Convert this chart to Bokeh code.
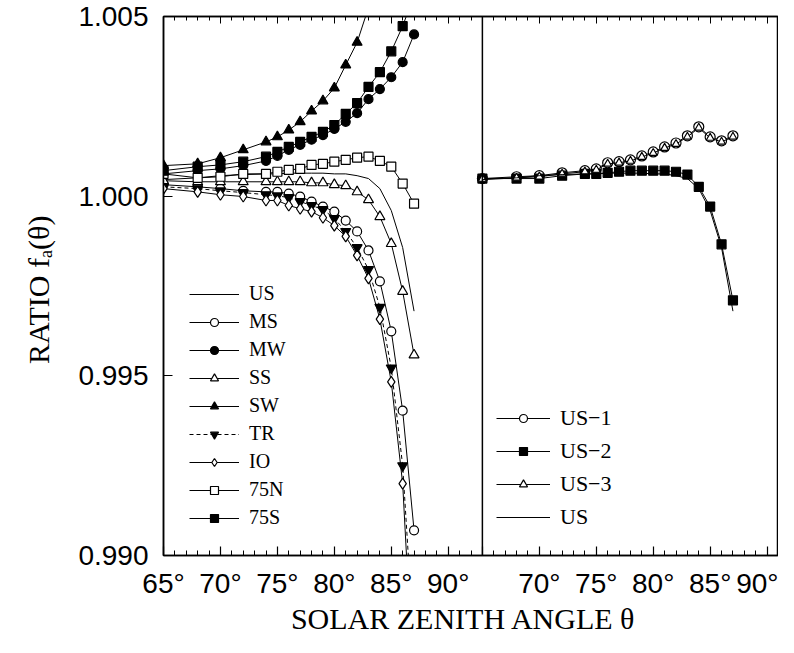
from bokeh.plotting import figure
from bokeh.models import FixedTicker, LinearAxis, Span, Legend, LegendItem, PrintfTickFormatter, Range1d
from bokeh.embed import file_html
from bokeh.resources import INLINE

# Solar zenith angles (degrees) of the computed points
angles = [65, 68, 70, 72, 74, 75, 76, 77, 78, 79, 80, 81, 82, 83, 84, 85, 86, 87]

# Left panel: ratio f_a(theta) for the standard atmospheres
us  = [1.00046, 1.00051, 1.00057, 1.00060, 1.00062, 1.00062, 1.00064, 1.00064, 1.00064,
       1.00064, 1.00062, 1.00062, 1.00057, 1.00049, 1.00021, 0.99960, 0.99857, 0.99680]
ms  = [1.00032, 1.00026, 1.00021, 1.00015, 1.00012, 1.00012, 1.00007, 0.99999, 0.99985,
       0.99971, 0.99957, 0.99932, 0.99902, 0.99849, 0.99763, 0.99624, 0.99403, 0.99070]
mw  = [1.00062, 1.00071, 1.00076, 1.00085, 1.00098, 1.00112, 1.00129, 1.00143, 1.00157,
       1.00170, 1.00187, 1.00207, 1.00231, 1.00270, 1.00298, 1.00331, 1.00373, 1.00450]
ss  = [1.00043, 1.00040, 1.00040, 1.00040, 1.00040, 1.00040, 1.00040, 1.00040, 1.00037,
       1.00037, 1.00032, 1.00029, 1.00012, 0.99990, 0.99943, 0.99868, 0.99735, 0.99558]
sw  = [1.00085, 1.00090, 1.00107, 1.00129, 1.00151, 1.00165, 1.00184, 1.00207, 1.00237,
       1.00265, 1.00301, 1.00365, 1.00428, 1.00525]
tr  = [1.00026, 1.00021, 1.00015, 1.00010, 1.00004, 1.00001, 0.99996, 0.99985, 0.99974,
       0.99963, 0.99938, 0.99902, 0.99857, 0.99796, 0.99691, 0.99522, 0.99250, 0.98746]
io  = [1.00021, 1.00012, 1.00004, 0.99999, 0.99988, 0.99988, 0.99974, 0.99965, 0.99957,
       0.99940, 0.99918, 0.99888, 0.99835, 0.99771, 0.99658, 0.99483, 0.99200, 0.98607]
n75 = [1.00062, 1.00051, 1.00054, 1.00062, 1.00062, 1.00068, 1.00073, 1.00076, 1.00087,
       1.00090, 1.00096, 1.00101, 1.00107, 1.00110, 1.00098, 1.00082, 1.00035, 0.99979]
s75 = [1.00071, 1.00082, 1.00087, 1.00096, 1.00110, 1.00123, 1.00137, 1.00151, 1.00165,
       1.00179, 1.00198, 1.00229, 1.00259, 1.00304, 1.00345, 1.00403, 1.00473, 1.00560]

# Right panel: US standard atmosphere variants
us1 = [1.00049, 1.00054, 1.00057, 1.00065, 1.00071, 1.00076, 1.00093, 1.00096, 1.00101,
       1.00112, 1.00123, 1.00137, 1.00148, 1.00168, 1.00193, 1.00165, 1.00154, 1.00168]
us2 = [1.00049, 1.00049, 1.00049, 1.00057, 1.00062, 1.00062, 1.00065, 1.00068, 1.00071,
       1.00071, 1.00071, 1.00071, 1.00068, 1.00060, 1.00026, 0.99971, 0.99866, 0.99710]
us3 = [1.00048, 1.00051, 1.00054, 1.00062, 1.00068, 1.00073, 1.00090, 1.00093, 1.00098,
       1.00109, 1.00120, 1.00134, 1.00145, 1.00165, 1.00190, 1.00162, 1.00151, 1.00165]

y_ticks = [0.990, 0.995, 1.000, 1.005]
x_tick_angles = [65, 70, 75, 80, 85, 90]
right_tick_angles = [70, 75, 80, 85, 90]

# The right panel sits next to the left one: its 65 deg coincides with the left's 93 deg
panel_offset = 28
x_right = [a + panel_offset for a in angles]

SERIF = "Liberation Serif"
SANS = "Liberation Sans"

p = figure(width=778, height=637, x_range=Range1d(65, 119.0), y_range=Range1d(0.990, 1.005),
           output_backend="svg", toolbar_location=None,
           min_border_left=163, min_border_right=0, min_border_top=16, min_border_bottom=80)
p.xgrid.visible = False
p.ygrid.visible = False
p.outline_line_color = "black"
p.outline_line_width = 1.5
p.background_fill_color = "white"
p.border_fill_color = "white"

major = x_tick_angles + [65 + panel_offset] + [a + panel_offset for a in right_tick_angles]
minor = [i for i in range(65, 120) if i not in major]
ticker = FixedTicker(ticks=major, minor_ticks=minor)
overrides = {a: f"{a}°" for a in x_tick_angles}
overrides[65 + panel_offset] = ""
for a in right_tick_angles:
    overrides[a + panel_offset] = f"{a}°"

xa = p.xaxis[0]
xa.ticker = ticker
xa.major_label_overrides = overrides
xa.major_tick_in = 9
xa.major_tick_out = 0
xa.minor_tick_in = 5
xa.minor_tick_out = 0
xa.axis_line_width = 1.5
xa.major_tick_line_width = 1.2
xa.major_label_text_font = SANS
xa.major_label_text_font_size = "28px"
xa.major_label_text_color = "black"
xa.major_label_standoff = 12
xa.axis_label = "SOLAR ZENITH ANGLE   θ"
xa.axis_label_text_font = SERIF
xa.axis_label_text_font_size = "30px"
xa.axis_label_text_font_style = "normal"
xa.axis_label_text_color = "black"
xa.axis_label_standoff = 0

top = LinearAxis(ticker=ticker, major_label_overrides={t: "" for t in major},
                 major_label_text_font_size="0px", major_label_standoff=0,
                 major_tick_in=7, major_tick_out=0, minor_tick_in=4, minor_tick_out=0,
                 axis_line_width=1.5)
p.add_layout(top, "above")

ya = p.yaxis[0]
ya.ticker = FixedTicker(ticks=y_ticks, minor_ticks=[])
ya.formatter = PrintfTickFormatter(format="%.3f")
ya.major_tick_in = 9
ya.major_tick_out = 0
ya.minor_tick_in = 0
ya.minor_tick_out = 0
ya.axis_line_width = 1.5
ya.major_label_text_font = SANS
ya.major_label_text_font_size = "28px"
ya.major_label_text_color = "black"
ya.major_label_standoff = 15
ya.axis_label = "RATIO  fₐ(θ)"
ya.axis_label_text_font = SERIF
ya.axis_label_text_font_size = "30px"
ya.axis_label_text_font_style = "normal"
ya.axis_label_text_color = "black"
ya.axis_label_standoff = 20

p.add_layout(Span(location=65 + panel_offset, dimension="height", line_color="black", line_width=1.5))

def series(x, y, marker=None, filled=False, dash="solid", size=9):
    xs = x[:len(y)]
    rs = [p.line(xs, y, line_color="black", line_width=1, line_dash=dash)]
    if marker:
        rs.append(p.scatter(xs, y, marker=marker, size=size, line_color="black", line_width=1.2,
                            fill_color="black" if filled else "white"))
    return rs

left_items = [
    ("US", series(angles, us)),
    ("MS", series(angles, ms, "circle", False, size=9)),
    ("MW", series(angles, mw, "circle", True, size=9)),
    ("SS", series(angles, ss, "triangle", False, size=10)),
    ("SW", series(angles, sw, "triangle", True, size=10)),
    ("TR", series(angles, tr, "inverted_triangle", True, "4 3", size=10)),
    ("IO", series(angles, io, "diamond", False, size=11)),
    ("75N", series(angles, n75, "square", False, size=9)),
    ("75S", series(angles, s75, "square", True, size=9)),
]
right_items = [
    ("US−1", series(x_right, us1, "circle", False, size=10)),
    ("US−2", series(x_right, us2, "square", True, size=9)),
    ("US−3", series(x_right, us3, "triangle", False, size=8)),
    ("US", series(x_right, us)),
]

def make_legend(items, loc, font_size, spacing, gw):
    lg = Legend(items=[LegendItem(label=l, renderers=r) for l, r in items], location=loc,
                orientation="vertical", padding=0, margin=0, spacing=spacing,
                glyph_width=gw, glyph_height=20, label_height=20, label_standoff=10,
                label_text_font=SERIF, label_text_font_size=font_size, label_text_color="black",
                border_line_alpha=0, background_fill_alpha=0)
    p.add_layout(lg, "center")

make_legend(left_items, (26, 26), "20px", 5, 50)
make_legend(right_items, (333, 25), "22px", 7, 54)

open("out.html", "w").write(file_html(p, INLINE))
